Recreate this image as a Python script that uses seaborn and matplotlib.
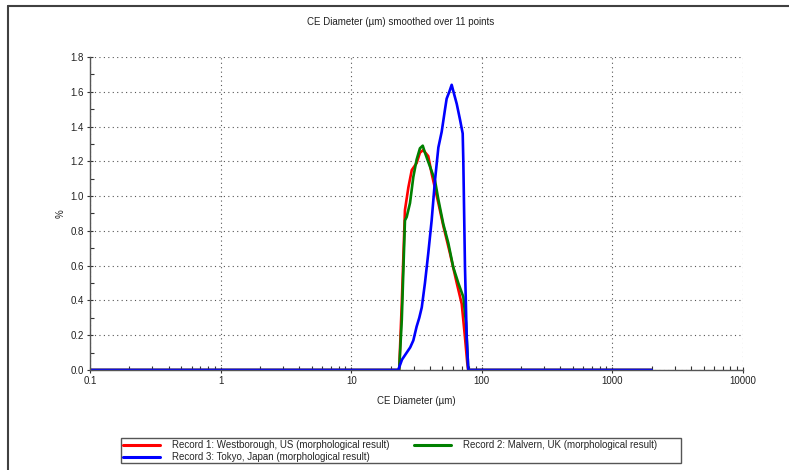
import numpy as np
import pandas as pd
import matplotlib
matplotlib.use("Agg")
import matplotlib.pyplot as plt
from matplotlib.lines import Line2D
from matplotlib.patches import Rectangle
from matplotlib.ticker import FixedLocator, FixedFormatter, NullFormatter
import seaborn as sns

# ---- data ----
red_x = [0.1, 23.3, 24.4, 25.8, 27.4, 29.1, 31.7, 33.6, 35.6, 38.9, 41.3, 46.5, 50.7, 57.1, 64.3, 70.2, 74.3, 77.4, 78.8, 2000]
red_y = [0.0, 0.0, 0.385, 0.92, 1.05, 1.15, 1.19, 1.25, 1.265, 1.23, 1.13, 0.96, 0.83, 0.67, 0.50, 0.38, 0.19, 0.04, 0.0, 0.0]

green_x = [0.1, 23.3, 24.4, 25.8, 26.6, 28.2, 29.9, 31.7, 33.6, 35.3, 36.7, 40.1, 43.8, 46.5, 50.7, 55.4, 60.5, 66.1, 72.2, 75.7, 78.8, 2000]
green_y = [0.0, 0.0, 0.29, 0.86, 0.88, 0.96, 1.11, 1.21, 1.275, 1.29, 1.25, 1.17, 1.09, 0.98, 0.84, 0.73, 0.59, 0.50, 0.42, 0.27, 0.0, 0.0]

blue_x = [0.1, 22.9, 24.5, 26.6, 28.3, 29.9, 31.7, 33.2, 34.7, 36.7, 38.9, 41.3, 43.8, 46.5, 49.3, 52.3, 53.8, 56.4, 58.8, 61.2, 64.3, 68.1, 71.4, 72.2, 74.3, 76.6, 78.8, 2000]
blue_y = [0.0, 0.0, 0.06, 0.10, 0.13, 0.17, 0.25, 0.30, 0.36, 0.50, 0.67, 0.86, 1.09, 1.28, 1.37, 1.50, 1.56, 1.60, 1.64, 1.59, 1.53, 1.44, 1.36, 1.20, 0.60, 0.19, 0.0, 0.0]

labels = ["Record 1: Westborough, US (morphological result)",
          "Record 2: Malvern, UK (morphological result)",
          "Record 3: Tokyo, Japan (morphological result)"]
colors = ["#ff0000", "#008000", "#0000ff"]

x_ticks = [0.1, 1, 10, 100, 1000, 10000]
x_tick_labels = ["0.1", "1", "10", "100", "1000", "10000"]
y_ticks = [0.0, 0.2, 0.4, 0.6, 0.8, 1.0, 1.2, 1.4, 1.6, 1.8]

title = "CE Diameter (µm) smoothed over 11 points"
xlabel = "CE Diameter (µm)"
ylabel = "%"

# ---- style ----
sns.set_theme(style="white")
plt.rcParams['font.family'] = ['Liberation Sans', 'DejaVu Sans']
FS = 7

W, H = 789, 470
fig = plt.figure(figsize=(W / 100, H / 100), dpi=100)
ax = fig.add_axes([90 / W, 1 - 370 / H, (743 - 90) / W, (370 - 57) / H])

series = [(red_x, red_y), (green_x, green_y), (blue_x, blue_y)]
handles = []
for (xs, ys), lab, col in zip(series, labels, colors):
    df = pd.DataFrame({"x": xs, "y": ys})
    sns.lineplot(data=df, x="x", y="y", ax=ax, color=col, linewidth=1.9,
                 sort=False, estimator=None, label=lab, legend=False)
    handles.append(Line2D([0], [0], color=col, linewidth=2.2))

ax.set_xscale("log")
ax.set_xlim(0.1, 10000)
ax.set_ylim(0, 1.8)
ax.xaxis.set_major_locator(FixedLocator(x_ticks))
ax.xaxis.set_major_formatter(FixedFormatter(x_tick_labels))
ax.xaxis.set_minor_locator(FixedLocator([m * d for d in [0.1, 1, 10, 100, 1000] for m in range(2, 10)]))
ax.xaxis.set_minor_formatter(NullFormatter())
ax.set_yticks(y_ticks)
ax.set_yticklabels([f"{v:.1f}" for v in y_ticks])
ax.yaxis.set_minor_locator(FixedLocator(np.arange(0.1, 1.8, 0.2)))

ax.grid(True, which="major", linestyle=(0, (1, 3)), color="#555555", linewidth=0.8)
ax.set_axisbelow(True)
for s in ["top", "right"]:
    ax.spines[s].set_visible(False)
for s in ["left", "bottom"]:
    ax.spines[s].set_color("#555555")
    ax.spines[s].set_linewidth(1.0)

ax.tick_params(axis="both", which="major", direction="inout", length=5, width=0.8,
               color="#333333", labelsize=FS, labelcolor="#222222", pad=2,
               bottom=True, left=True)
ax.tick_params(axis="both", which="minor", direction="in", length=3, width=0.8,
               color="#333333", bottom=True, left=True)

ax.set_xlabel(xlabel, fontsize=FS, color="#222222", labelpad=7)
ax.set_ylabel(ylabel, fontsize=FS, color="#222222", labelpad=3)

fig.text(401 / W, 1 - 22 / H, title, ha="center", va="center", fontsize=FS, color="#222222")

# legend box drawn as a rectangle, entries placed inside it
fig.add_artist(Rectangle((121 / W, 1 - 463 / H), (681 - 121) / W, (463 - 438) / H,
                         transform=fig.transFigure, fill=False,
                         edgecolor="#555555", linewidth=1.0))
leg = fig.legend([handles[0], handles[2], handles[1]], [labels[0], labels[2], labels[1]],
                 loc="upper left", bbox_to_anchor=(121 / W, 1 - 438 / H), ncol=2,
                 fontsize=FS, frameon=False,
                 handlelength=3.8, handletextpad=1.2, columnspacing=2.6,
                 labelspacing=0.25, borderpad=0.2, borderaxespad=0)

# outer frame (top and left edges)
fig.add_artist(Line2D([8 / W, 1], [1 - 6 / H, 1 - 6 / H], transform=fig.transFigure,
                      color="#404040", linewidth=1.5))
fig.add_artist(Line2D([8 / W, 8 / W], [0, 1 - 6 / H], transform=fig.transFigure,
                      color="#404040", linewidth=1.5))

fig.savefig("out.png", dpi=100)
